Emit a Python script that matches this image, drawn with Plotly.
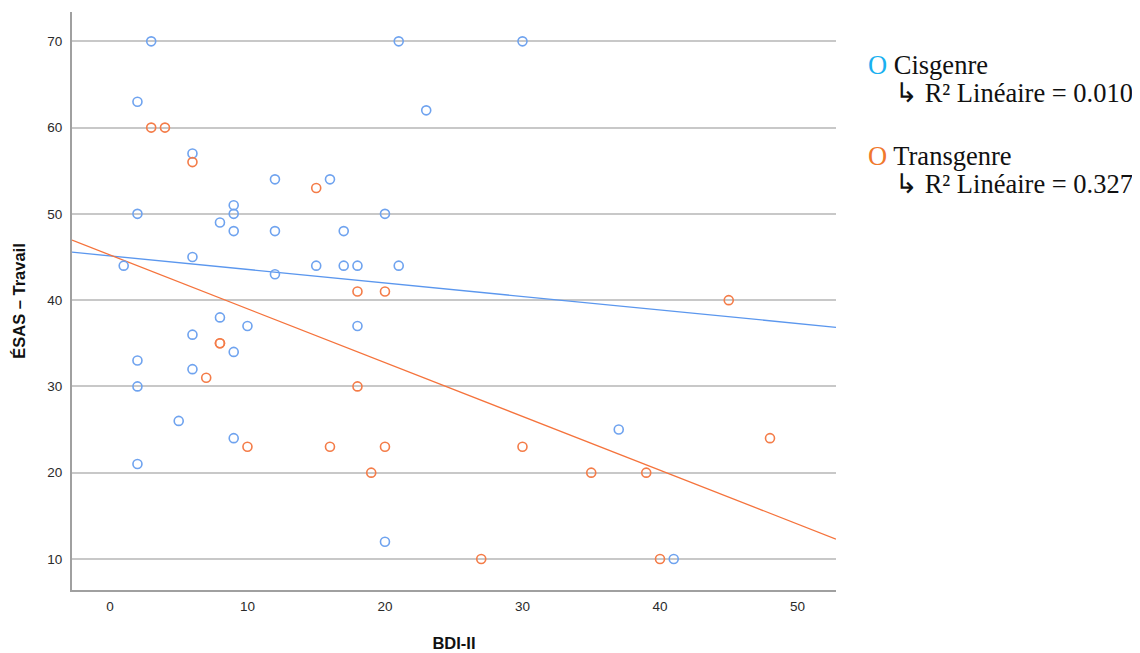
import numpy as np
import plotly.graph_objects as go

# Data
cis_bdi = [3, 21, 30, 2, 23, 6, 12, 16, 9, 2, 9, 20, 8, 9, 12, 17, 6, 1, 15, 17, 18, 21, 12,
           8, 10, 18, 6, 9, 2, 6, 2, 5, 37, 9, 2, 20, 41]
cis_esas = [70, 70, 70, 63, 62, 57, 54, 54, 51, 50, 50, 50, 49, 48, 48, 48, 45, 44, 44, 44, 44, 44, 43,
            38, 37, 37, 36, 34, 33, 32, 30, 26, 25, 24, 21, 12, 10]
trans_bdi = [3, 4, 6, 15, 18, 20, 45, 8, 8, 7, 18, 10, 16, 20, 30, 48, 19, 35, 39, 27, 40]
trans_esas = [60, 60, 56, 53, 41, 41, 40, 35, 35, 31, 30, 23, 23, 23, 23, 24, 20, 20, 20, 10, 10]

x_ticks = [0, 10, 20, 30, 40, 50]
y_ticks = [10, 20, 30, 40, 50, 60, 70]
x_range = [-2.76, 52.8]
y_range = [6.4, 73.4]

blue = "#6fa3ef"
orange = "#f47c48"
blue_line = "#5b97ee"
orange_line = "#f5733c"


def fit(x, y):
    x = np.array(x, float)
    y = np.array(y, float)
    b, a = np.polyfit(x, y, 1)
    r2 = np.corrcoef(x, y)[0, 1] ** 2
    return a, b, r2


fig = go.Figure()

series = [
    ("Cisgenre", cis_bdi, cis_esas, blue, blue_line),
    ("Transgenre", trans_bdi, trans_esas, orange, orange_line),
]
r2s = []
for name, xs, ys, c, lc in series:
    a, b, r2 = fit(xs, ys)
    r2s.append(r2)
    lx = np.array(x_range)
    fig.add_trace(go.Scatter(x=lx, y=a + b * lx, mode="lines",
                             line=dict(color=lc, width=1.3), showlegend=False,
                             hoverinfo="skip"))
for name, xs, ys, c, lc in series:
    fig.add_trace(go.Scatter(x=xs, y=ys, mode="markers", name=name,
                             marker=dict(symbol="circle-open", size=9, color=c,
                                         line=dict(width=1.6, color=c)),
                             showlegend=False))

OFF = 8  # page offset of the figure (default body margin)
W, H = 1132, 653
L, R, T, B = 64, W - 828, 4, 71
pw, ph = W - L - R, H - T - B


def px(xp):
    return (xp - OFF - L) / pw


def py(yp):
    return (H - B - (yp - OFF)) / ph


serif = "Liberation Serif, Times New Roman, serif"
leg = [
    (866, 65, '<span style="color:#1ab0f0">O</span> Cisgenre'),
    (893, 93, "\u21b3 R\u00b2 Lin\u00e9aire = %.3f" % r2s[0]),
    (866, 156, '<span style="color:#f0782c">O</span> Transgenre'),
    (893, 184, "\u21b3 R\u00b2 Lin\u00e9aire = %.3f" % r2s[1]),
]
for xp, yp, txt in leg:
    fig.add_annotation(x=px(xp), y=py(yp), xref="paper", yref="paper",
                       xanchor="left", yanchor="middle", showarrow=False,
                       text=txt, font=dict(family=serif, size=26.5, color="#111"))

fig.update_layout(
    width=W, height=H,
    margin=dict(l=L, r=R, t=T, b=B),
    plot_bgcolor="white", paper_bgcolor="white",
    font=dict(family="Liberation Sans, Arial, sans-serif", size=13.5, color="#333"),
    xaxis=dict(range=x_range, tickvals=x_ticks, showgrid=False, zeroline=False,
               showline=True, linecolor="#a0a0a0", linewidth=2, ticks="",
               ticklabelstandoff=3, tickfont=dict(size=13.5, color="#2a2a2a"),
               title=dict(text="<b>BDI-II</b>", standoff=24,
                          font=dict(size=16.5, color="#111"))),
    yaxis=dict(range=y_range, tickvals=y_ticks, showgrid=True, gridcolor="#c8c8c8",
               gridwidth=1.5, zeroline=False, showline=True, linecolor="#a0a0a0",
               linewidth=2, ticks="", ticklabelstandoff=5,
               tickfont=dict(size=13.5, color="#2a2a2a"),
               title=dict(text="<b>ÉSAS – Travail</b>", standoff=17,
                          font=dict(size=16.5, color="#111"))),
)

fig.write_html("out.html", config={"displayModeBar": False})
